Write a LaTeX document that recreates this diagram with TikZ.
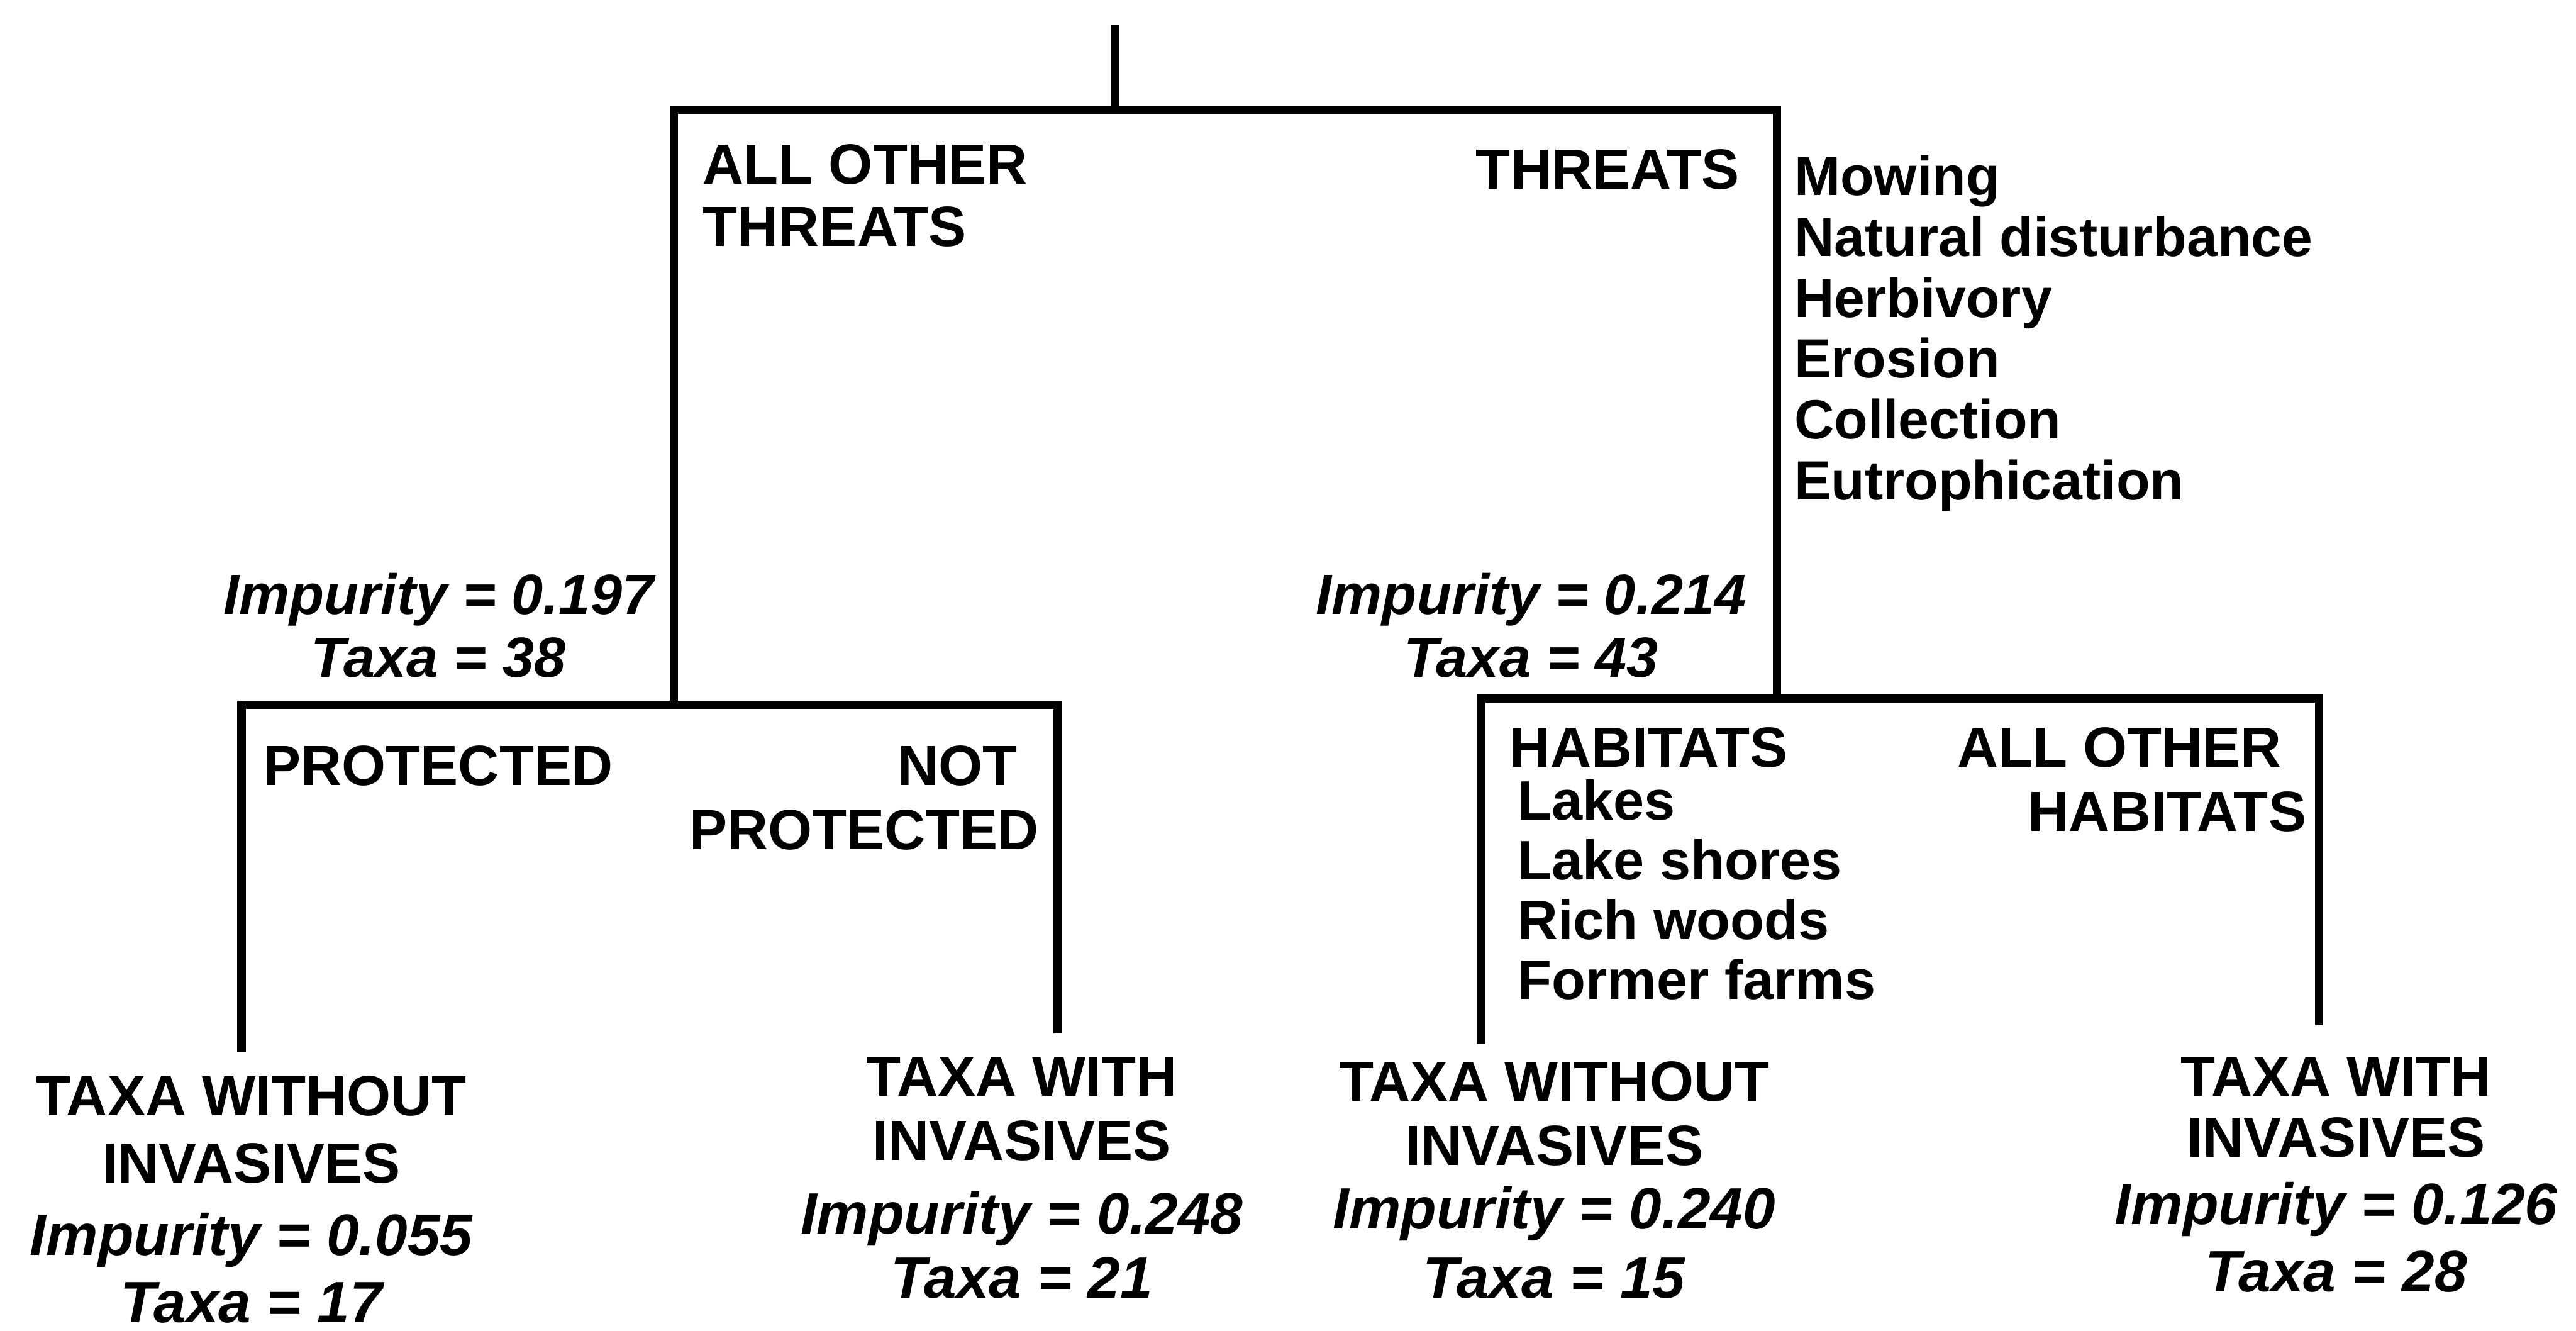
\documentclass[tikz,border=0pt]{standalone}
\usepackage{fontspec}
\setmainfont{Liberation Sans}
\begin{document}
\begin{tikzpicture}[x=1pt,y=-1pt,
  stem/.style={line width=4.6pt},
  bar/.style={line width=5pt,line join=miter},
  lbl/.style={inner sep=0pt,font=\fontsize{34.5}{38}\selectfont\bfseries},
  lst/.style={inner sep=0pt,align=left,anchor=base west},
  stat/.style={inner sep=0pt,align=center,anchor=base,font=\fontsize{34.5}{38}\selectfont\bfseries\itshape},
  leaf/.style={inner sep=0pt,align=center,anchor=base}]
\useasboundingbox (0,0) rectangle (1568,810);
% split points
\coordinate (root) at (678.7,15.5);
\coordinate (s1) at (678.7,66.8);
\coordinate (s1L) at (410,66.8);
\coordinate (s1R) at (1081.5,66.8);
\coordinate (s2) at (410,429);
\coordinate (s2L) at (147,429);
\coordinate (s2R) at (643.6,429);
\coordinate (s3) at (1081.5,425);
\coordinate (s3L) at (901.5,425);
\coordinate (s3R) at (1411.5,425);
\coordinate (l1) at (147,640);
\coordinate (l2) at (643.6,629);
\coordinate (l3) at (901.5,635.5);
\coordinate (l4) at (1411.5,624);
% connectors
\draw[stem] (root) -- (s1);
\draw[bar] (s2) -- (s1L) -- (s1R) -- (s3);
\draw[bar] (l1) -- (s2L) -- (s2R) -- (l2);
\draw[bar] (l3) -- (s3L) -- (s3R) -- (l4);
% first split labels (multi-line nodes: base = last line's baseline)
\node[lbl,align=left,anchor=base west] (t1L) at (427.7,150) {ALL OTHER\\THREATS};
\node[lbl,anchor=base east] (t1R) at (1059,115) {THREATS};
\node[lbl,lst,font=\fontsize{33.6}{37}\selectfont\bfseries] (threats) at (1092,304)
  {Mowing\\Natural disturbance\\Herbivory\\Erosion\\Collection\\Eutrophication};
% internal node statistics
\node[stat] (n1) at (267,412) {Impurity = 0.197\\Taxa = 38};
\node[stat] (n2) at (932,412) {Impurity = 0.214\\Taxa = 43};
% second split labels
\node[lbl,anchor=base west] (t2L) at (160,478) {PROTECTED};
\node[lbl,align=right,anchor=base east,font=\fontsize{34.5}{39}\selectfont\bfseries] (t2R) at (632.6,517) {NOT\kern13pt\\PROTECTED};
\node[lbl,anchor=base west] (t3L) at (918.6,467) {HABITATS};
\node[lbl,lst,font=\fontsize{33.8}{36.3}\selectfont\bfseries] (hab) at (923.7,608)
  {Lakes\\Lake shores\\Rich woods\\Former farms};
\node[lbl,align=right,anchor=base east,font=\fontsize{34.5}{38.7}\selectfont\bfseries] (t3R) at (1404,505.7) {ALL OTHER\kern15pt\\HABITATS};
% leaves
\node[leaf,font=\fontsize{34.5}{41}\selectfont\bfseries] (leaf1) at (153,805)
  {TAXA WITHOUT\\INVASIVES\\[3pt]\fontsize{35.5}{41}\selectfont\itshape Impurity = 0.055\\\fontsize{35.5}{41}\selectfont\itshape Taxa = 17};
\node[leaf,font=\fontsize{34.5}{39}\selectfont\bfseries] (leaf2) at (622,790)
  {TAXA WITH\\INVASIVES\\[6pt]\fontsize{35.5}{39}\selectfont\itshape Impurity = 0.248\\\fontsize{35.5}{39}\selectfont\itshape Taxa = 21};
\node[leaf,font=\fontsize{34.5}{39}\selectfont\bfseries] (leaf3) at (946,790)
  {TAXA WITHOUT\\INVASIVES\\\fontsize{35.5}{39}\selectfont\itshape Impurity = 0.240\\[3pt]\fontsize{35.5}{39}\selectfont\itshape Taxa = 15};
\node[leaf,font=\fontsize{34.5}{37}\selectfont\bfseries] (leaf4) at (1422,786)
  {TAXA WITH\\INVASIVES\\[4pt]\fontsize{35.5}{37}\selectfont\itshape Impurity = 0.126\\[4pt]\fontsize{35.5}{37}\selectfont\itshape Taxa = 28};
\end{tikzpicture}
\end{document}
